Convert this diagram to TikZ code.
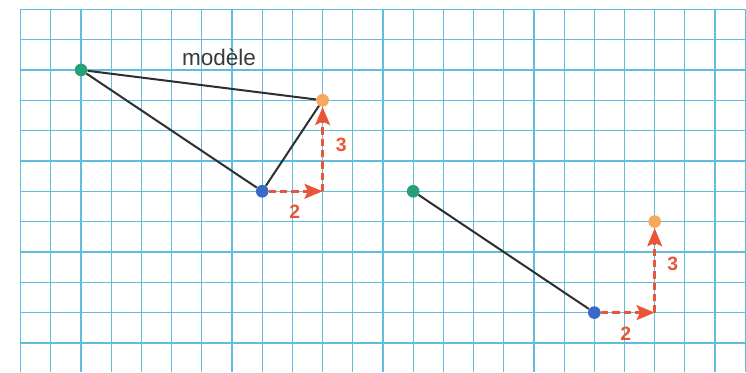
\documentclass[tikz,border=0pt]{standalone}
\usepackage{fontspec}
\setmainfont{Liberation Sans}
\usetikzlibrary{arrows.meta}
\definecolor{gridc}{RGB}{96,190,220}
\definecolor{arrowc}{RGB}{234,84,56}
\definecolor{dotgreen}{RGB}{38,160,120}
\definecolor{dotorange}{RGB}{246,168,92}
\definecolor{dotblue}{RGB}{58,106,200}
\definecolor{segc}{RGB}{46,46,46}
\definecolor{textc}{RGB}{58,58,58}
\tikzset{
  gridline/.style={draw=gridc, line width=0.9pt},
  dot/.style={circle, inner sep=0pt, minimum size=9.5pt},
  seg/.style={draw=segc, line width=1.5pt},
  movearrow/.style={draw=arrowc, line width=2.4pt, dash pattern=on 5.5pt off 3pt,
    -{Stealth[length=13.5pt, width=11pt, inset=2.5pt]}},
  numlabel/.style={text=arrowc, font=\fontsize{14.5pt}{16pt}\selectfont\bfseries, inner sep=0pt},
  titlelabel/.style={text=textc, font=\fontsize{16.9pt}{19pt}\selectfont, inner sep=0pt, anchor=base}
}
\begin{document}
\begin{tikzpicture}[x=0.75pt, y=-0.75pt]
\useasboundingbox (0,0) rectangle (746,372);
% grid
\foreach \i in {0,...,24} {
  \draw[gridline] ({20.7+30.19*\i},9.3) -- ({20.7+30.19*\i},372);
}
\foreach \j in {0,...,11} {
  \draw[gridline] (20.7,{9.3+30.33*\j}) -- (746,{9.3+30.33*\j});
}
% points of the model
\node[dot, fill=dotgreen]  (A) at (81.08,69.96) {};
\node[dot, fill=dotorange] (C) at (322.6,100.29) {};
\node[dot, fill=dotblue]   (B) at (262.22,191.28) {};
\coordinate (K) at (322.6,191.28);
% points of the copy
\node[dot, fill=dotgreen]  (A2) at (413.17,191.28) {};
\node[dot, fill=dotorange] (C2) at (654.69,221.61) {};
\node[dot, fill=dotblue]   (B2) at (594.31,312.6) {};
\coordinate (K2) at (654.69,312.6);
% segments
\draw[seg] (A) -- (C);
\draw[seg] (A) -- (B);
\draw[seg] (B) -- (C);
\draw[seg] (A2) -- (B2);
% moves
\draw[movearrow] (B) -- (K);
\draw[movearrow] (K) -- (C);
\draw[movearrow] (B2) -- (K2);
\draw[movearrow] (K2) -- (C2);
% labels
\node[titlelabel] (title) at (219,65) {modèle};
\node[numlabel] (n3) at (341.3,145.3) {3};
\node[numlabel] (n2) at (294.7,212) {2};
\node[numlabel] (m3) at (672.7,264) {3};
\node[numlabel] (m2) at (625.7,333.7) {2};
\end{tikzpicture}
\end{document}
